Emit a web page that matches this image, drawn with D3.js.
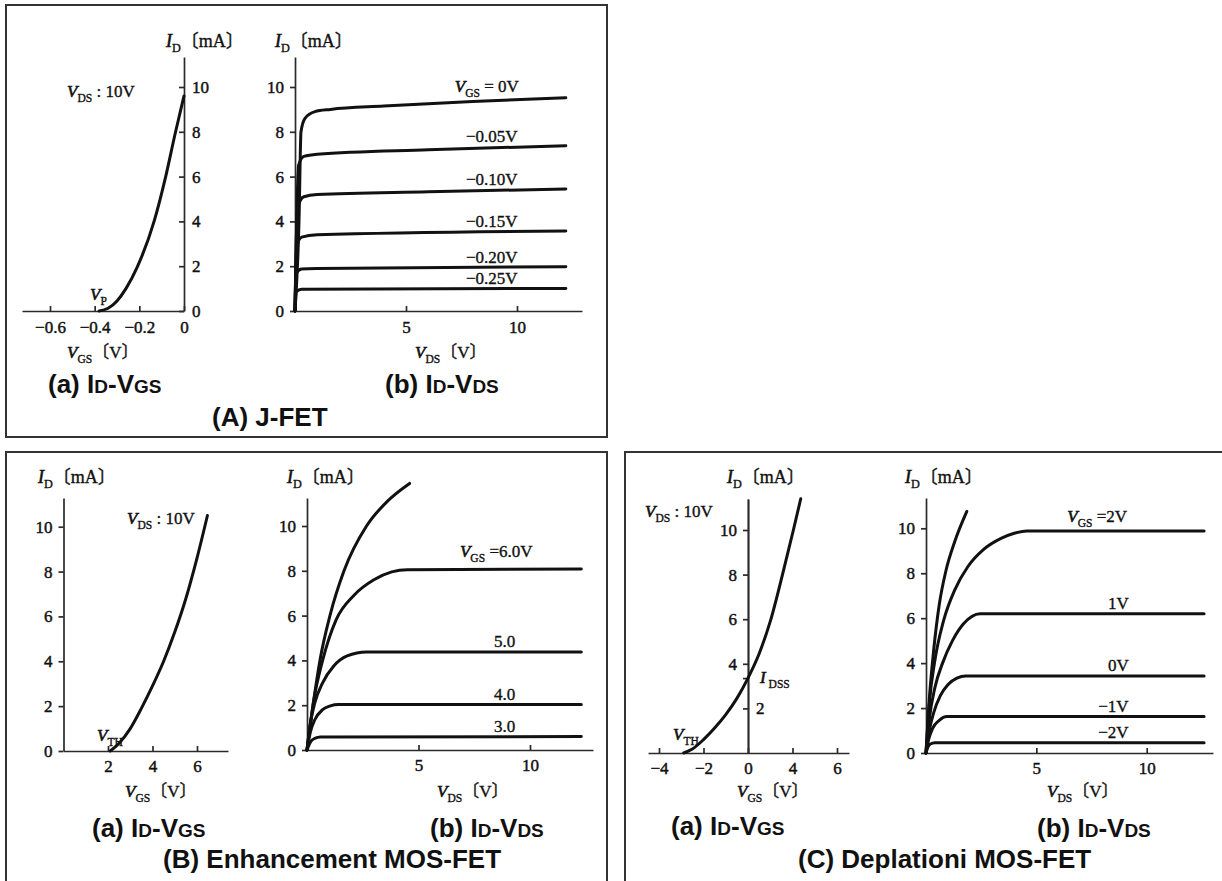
<!DOCTYPE html>
<html><head><meta charset="utf-8">
<script src="https://cdn.jsdelivr.net/npm/d3@7"></script>
<style>
body{margin:0;background:#fff;}
svg{display:block;}
</style></head><body><svg id="c" width="1222" height="881"></svg>
<script>
// ================= DATA =================
// (A) J-FET  (a) ID-VGS  transfer curve
const jfetVgs = [-0.38, -0.34, -0.30, -0.26, -0.21, -0.134, -0.082, -0.04, 0];
const jfetId  = [0, 0.12, 0.45, 1.0, 1.95, 4.0, 6.0, 7.9, 9.6];
const jfetXTicks = [-0.6, -0.4, -0.2, 0];
const jfetXTickLabels = ["−0.6", "−0.4", "−0.2", "0"];
const yTicks = [0, 2, 4, 6, 8, 10];

// (A) J-FET  (b) ID-VDS output curves  [VDS, ID]
const jfetOutLabels = ["*V*_{GS} = 0V", "−0.05V", "−0.10V", "−0.15V", "−0.20V", "−0.25V"];
const jfetOutLabelAt = [7.2, 7.7, 7.7, 7.7, 7.7, 7.7];
const jfetOut0   = [[0,0],[0.18,4],[0.27,8.0],[0.45,8.6],[0.9,8.9],[1.6,9.0],[4,9.15],[8,9.35],[12.2,9.52]];
const jfetOut005 = [[0,0],[0.1,5],[0.16,6.5],[0.4,6.9],[1.0,7.0],[6,7.2],[12.2,7.38]];
const jfetOut010 = [[0,0],[0.08,4],[0.14,4.7],[0.4,5.1],[1.0,5.2],[6,5.32],[12.2,5.45]];
const jfetOut015 = [[0,0],[0.08,2.9],[0.3,3.3],[1.0,3.4],[12.2,3.57]];
const jfetOut020 = [[0,0],[0.06,1.7],[0.3,1.88],[1.0,1.9],[12.2,1.98]];
const jfetOut025 = [[0,0],[0.05,0.85],[0.3,0.97],[12.2,1.01]];
const vdsTicks = [5, 10];

// (B) Enhancement MOS-FET  (a) ID-VGS
const enhVgs = [2.1, 2.5, 3.0, 3.5, 4.0, 4.5, 5.0, 5.5, 6.0, 6.47];
const enhId  = [0, 0.35, 1.0, 1.9, 2.9, 4.0, 5.3, 6.8, 8.6, 10.5];
const enhXTicks = [2, 4, 6];

// (B) Enhancement MOS-FET  (b) ID-VDS
const enhOutLabels = ["", "*V*_{GS} =6.0V", "5.0", "4.0", "3.0"];
const enhOutLabelAt = [0, 6.86, 8.39, 8.39, 8.39];
const enhOut7 = [[0,0],[0.27,2],[0.58,4],[1.03,6],[1.66,8],[2.67,10],[3.6,11.1],[4.6,11.9]];
const enhOut6 = [[0,0],[0.3,2.2],[0.7,4],[1.3,5.8],[2.1,6.9],[3.0,7.6],[3.8,7.95],[4.5,8.05],[12.3,8.08]];
const enhOut5 = [[0,0],[0.15,1.2],[0.35,2.1],[0.7,3.0],[1.2,3.75],[1.8,4.2],[2.67,4.38],[12.3,4.38]];
const enhOut4 = [[0,0],[0.15,0.8],[0.35,1.35],[0.7,1.8],[1.05,1.97],[1.4,2.03],[12.3,2.03]];
const enhOut3 = [[0,0],[0.15,0.35],[0.35,0.52],[0.6,0.58],[12.3,0.6]];

// (C) Depletion MOS-FET  (a) ID-VGS
const depVgs = [-2.89, -2.5, -2.0, -1.5, -1.0, -0.5, 0, 0.5, 1.0, 1.55, 2.04, 2.37];
const depId  = [0, 0.18, 0.6, 1.12, 1.72, 2.45, 3.36, 4.45, 5.9, 8.0, 10.0, 11.4];
const depXTicks = [-4, -2, 0, 2, 4];
const depXTickLabels = ["−4", "−2", "0", "4", "6"];
const depYLeftTicks = [4, 6, 8, 10];
const depYRightTicks = [2, 3.36];
const depYRightLabels = ["2", ""];

// (C) Depletion MOS-FET  (b) ID-VDS
const depOutLabels = ["", "*V*_{GS} =2V", "1V", "0V", "−1V", "−2V"];
const depOutLabelAt = [0, 6.4, 8.25, 8.25, 7.8, 7.8];
const depOut3  = [[0,0],[0.15,2.4],[0.35,4.6],[0.6,6.6],[0.9,8.1],[1.3,9.4],[1.85,10.75]];
const depOut2  = [[0,0],[0.15,2.2],[0.4,4.1],[0.8,5.9],[1.3,7.25],[1.9,8.3],[2.6,9.05],[3.4,9.55],[4.0,9.78],[4.58,9.88],[12.6,9.88]];
const depOut1  = [[0,0],[0.15,1.5],[0.4,2.9],[0.75,4.0],[1.2,5.0],[1.7,5.75],[2.45,6.2],[12.6,6.2]];
const depOut0  = [[0,0],[0.15,1.0],[0.35,1.8],[0.65,2.55],[1.0,3.05],[1.4,3.33],[1.8,3.43],[12.6,3.43]];
const depOutM1 = [[0,0],[0.12,0.6],[0.3,1.1],[0.6,1.45],[0.95,1.62],[12.6,1.62]];
const depOutM2 = [[0,0],[0.08,0.25],[0.2,0.4],[0.4,0.46],[12.6,0.46]];

// ================= DRAWING =================
const SERIF = '"Liberation Serif", "DejaVu Serif", "Noto Sans CJK JP", serif';
const SANS = '"Liberation Sans", Arial, sans-serif';
const INK = '#111';
const AX = '#2a2a2a';
const svg = d3.select('#c');

// panel frames
svg.append('rect').attr('x',6).attr('y',5).attr('width',601).attr('height',432)
  .attr('fill','none').attr('stroke','#333').attr('stroke-width',2);
svg.append('rect').attr('x',6).attr('y',452).attr('width',601).attr('height',450)
  .attr('fill','none').attr('stroke','#333').attr('stroke-width',2);
svg.append('rect').attr('x',625).attr('y',452).attr('width',620).attr('height',450)
  .attr('fill','none').attr('stroke','#333').attr('stroke-width',2);

function rich(x, y, markup, size, anchor) {
  const t = svg.append('text').attr('x', x).attr('y', y)
    .attr('font-family', SERIF).attr('font-size', size).attr('fill', INK)
    .attr('stroke', INK).attr('stroke-width', 0.35)
    .attr('text-anchor', anchor || 'start');
  const parts = markup.split(/(\*[^*]+\*|_\{[^}]+\})/).filter(s => s);
  let lowered = false;
  const shift = size * 0.3;
  parts.forEach(p => {
    const ts = t.append('tspan');
    if (p.startsWith('_{')) {
      ts.text(p.slice(2, -1)).attr('font-size', size * 0.68);
      if (!lowered) { ts.attr('dy', shift); lowered = true; }
    } else {
      if (p.startsWith('*')) ts.text(p.slice(1, -1)).attr('font-style', 'italic').attr('stroke-width', 0.6);
      else ts.text(p);
      if (lowered) { ts.attr('dy', -shift); lowered = false; }
    }
  });
  return t;
}

function caption(x, y, markup) {
  const t = svg.append('text').attr('x', x).attr('y', y)
    .attr('font-family', SANS).attr('font-weight', 'bold').attr('font-size', 26).attr('fill', INK);
  markup.split(/(\{[^}]+\})/).filter(s => s).forEach(p => {
    if (p[0] === '{') t.append('tspan').attr('font-size', 19).text(p.slice(1, -1));
    else t.append('tspan').text(p);
  });
}

function makeX(calA, calB, pxLeft, pxRight) {
  const s = d3.scaleLinear().domain([calA[0], calB[0]]).range([calA[1], calB[1]]);
  return s.domain([s.invert(pxLeft), s.invert(pxRight)]).range([pxLeft, pxRight]);
}
function makeY(zeroPx, tenPx, topPx) {
  const s = d3.scaleLinear().domain([0, 10]).range([zeroPx, tenPx]);
  return s.domain([0, s.invert(topPx)]).range([zeroPx, topPx]);
}
function styleAxis(g) {
  g.select('.domain').attr('stroke', AX).attr('stroke-width', 1.7);
  g.selectAll('.tick line').attr('stroke', AX).attr('stroke-width', 1.7);
  g.selectAll('.tick text').attr('font-family', SERIF).attr('font-size', 17).attr('fill', INK)
    .attr('stroke', INK).attr('stroke-width', 0.45);
  return g;
}
function xAxis(xs, yPx, ticks, labels, pad) {
  const ax = d3.axisBottom(xs).tickValues(ticks).tickSizeInner(-5).tickSizeOuter(0).tickPadding(pad || 10)
    .tickFormat((d, i) => labels ? labels[i] : d3.format('')(d));
  styleAxis(svg.append('g').attr('transform', `translate(0,${yPx})`).call(ax));
}
function yAxis(ys, xPx, side, ticks, labels) {
  const gen = side === 'right' ? d3.axisRight(ys) : d3.axisLeft(ys);
  const ax = gen.tickValues(ticks).tickSizeOuter(0)
    .tickSizeInner(side === 'right' ? -5 : 5).tickPadding(side === 'right' ? 8 : 6)
    .tickFormat((d, i) => labels ? labels[i] : d3.format('')(d));
  styleAxis(svg.append('g').attr('transform', `translate(${xPx},0)`).call(ax));
}
function curve(xs, ys, pts) {
  svg.append('path').datum(pts)
    .attr('d', d3.line().x(d => xs(d[0])).y(d => ys(d[1])).curve(d3.curveMonotoneX))
    .attr('fill', 'none').attr('stroke', INK).attr('stroke-width', 3)
    .attr('stroke-linecap', 'round').attr('stroke-linejoin', 'round');
}

// ---------- (A)(a) ----------
{
  const xs = makeX([-0.6, 50], [0, 184], 22, 184);
  const ys = makeY(311, 87, 57);
  xAxis(xs, ys(0), jfetXTicks, jfetXTickLabels);
  yAxis(ys, xs(0), 'right', yTicks);
  curve(xs, ys, d3.zip(jfetVgs, jfetId));
  rich(166, 47, '*I*_{D}〔mA〕', 18);
  rich(67, 97, '*V*_{DS} : 10V', 17);
  rich(90, 300, '*V*_{P}', 17);
  rich(67, 358, '*V*_{GS}〔V〕', 17);
  caption(48, 393, '(a) I{D}-V{GS}');
}
// ---------- (A)(b) ----------
{
  const xs = makeX([0, 295], [10, 517], 295, 582);
  const ys = makeY(311, 87, 57);
  xAxis(xs, ys(0), vdsTicks);
  yAxis(ys, xs(0), 'left', yTicks);
  const curves = [jfetOut0, jfetOut005, jfetOut010, jfetOut015, jfetOut020, jfetOut025];
  curves.forEach((c, i) => {
    curve(xs, ys, c);
    rich(xs(jfetOutLabelAt[i]), ys(c[c.length - 1][1]) - (i === 0 ? 6 : 4), jfetOutLabels[i], 17);
  });
  rich(415, 358, '*V*_{DS}〔V〕', 17);
  rich(275, 47, '*I*_{D}〔mA〕', 18);
  caption(385, 393, '(b) I{D}-V{DS}');
  caption(212, 426, '(A) J-FET');
}
// ---------- (B)(a) ----------
{
  const xs = makeX([0, 63.5], [6, 197], 63.5, 228);
  const ys = makeY(751, 526.7, 498);
  xAxis(xs, ys(0), enhXTicks, null, 9);
  yAxis(ys, xs(0), 'left', yTicks);
  curve(xs, ys, d3.zip(enhVgs, enhId));
  rich(38, 483, '*I*_{D}〔mA〕', 18);
  rich(127, 524, '*V*_{DS} : 10V', 17);
  rich(97, 741, '*V*_{TH}', 17);
  rich(125, 797, '*V*_{GS}〔V〕', 17);
  caption(92, 837, '(a) I{D}-V{GS}');
}
// ---------- (B)(b) ----------
{
  const xs = makeX([0, 307], [10, 530], 307, 593);
  const ys = makeY(750, 526, 498);
  xAxis(xs, ys(0), vdsTicks, null, 9);
  yAxis(ys, xs(0), 'left', yTicks);
  const curves = [enhOut7, enhOut6, enhOut5, enhOut4, enhOut3];
  curves.forEach((c, i) => {
    curve(xs, ys, c);
    if (enhOutLabels[i]) rich(xs(enhOutLabelAt[i]), ys(c[c.length - 1][1]) - (i === 1 ? 12 : 5), enhOutLabels[i], 17);
  });
  rich(287, 483, '*I*_{D}〔mA〕', 18);
  rich(437, 797, '*V*_{DS}〔V〕', 17);
  caption(430, 837, '(b) I{D}-V{DS}');
  caption(163, 868, '(B) Enhancement MOS-FET');
}
// ---------- (C)(a) ----------
{
  const xs = makeX([-4, 659], [4, 837], 648, 849);
  const ys = makeY(753, 530, 499);
  xAxis(xs, ys(0), depXTicks, depXTickLabels, 9);
  yAxis(ys, xs(0), 'left', depYLeftTicks);
  yAxis(ys, xs(0), 'right', depYRightTicks, depYRightLabels);
  curve(xs, ys, d3.zip(depVgs, depId));
  rich(727, 483, '*I*_{D}〔mA〕', 18);
  rich(645, 517, '*V*_{DS} : 10V', 17);
  rich(760, 683, '*I*_{ DSS}', 17);
  rich(673, 740, '*V*_{TH}', 17);
  rich(737, 797, '*V*_{GS}〔V〕', 17);
  caption(671, 835, '(a) I{D}-V{GS}');
}
// ---------- (C)(b) ----------
{
  const xs = makeX([0, 926], [10, 1146.7], 926, 1213);
  const ys = makeY(753, 528.3, 498);
  xAxis(xs, ys(0), vdsTicks, null, 9);
  yAxis(ys, xs(0), 'left', yTicks);
  const curves = [depOut3, depOut2, depOut1, depOut0, depOutM1, depOutM2];
  curves.forEach((c, i) => {
    curve(xs, ys, c);
    if (depOutLabels[i]) rich(xs(depOutLabelAt[i]), ys(c[c.length - 1][1]) - (i === 1 ? 9 : 5), depOutLabels[i], 17);
  });
  rich(905, 483, '*I*_{D}〔mA〕', 18);
  rich(1047, 797, '*V*_{DS}〔V〕', 17);
  caption(1037, 837, '(b) I{D}-V{DS}');
  caption(798, 868, '(C) Deplationi MOS-FET');
}
</script></body></html>
